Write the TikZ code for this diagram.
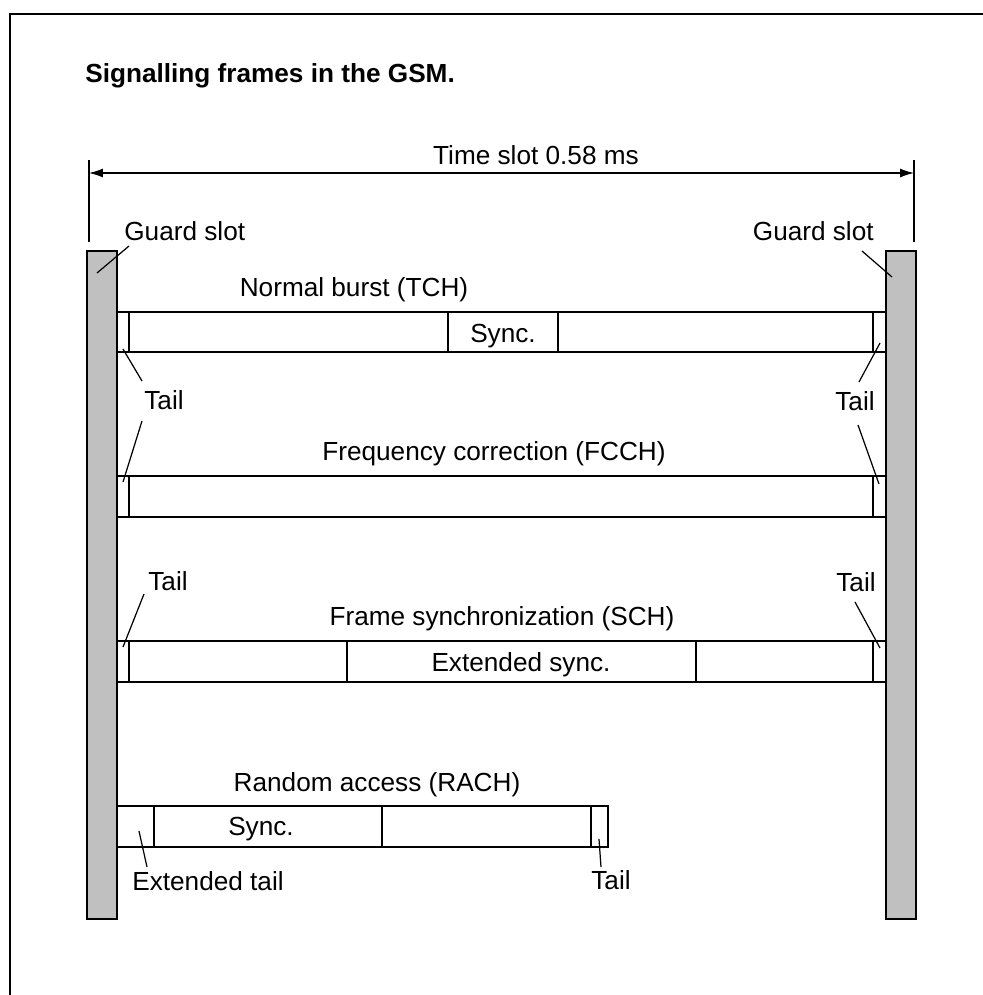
\documentclass[tikz,border=0pt]{standalone}
\usepackage{fontspec}
\setmainfont{Liberation Sans}
\usetikzlibrary{arrows.meta}

\definecolor{guardgray}{RGB}{192,192,192}

\begin{document}
\begin{tikzpicture}[x=0.02cm, y=-0.02cm, inner sep=0pt, font=\fontsize{14.9}{17}\selectfont]
    \useasboundingbox (0,0) rectangle (983,995);
    \clip (0,0) rectangle (983,995);
    \draw[line width=1.2pt] (10,14) rectangle (1010,1020);

    \coordinate (LT) at (89,160);
    \coordinate (LB) at (89,242);
    \coordinate (RT) at (914,160);
    \coordinate (RB) at (914,242);
    \coordinate (AL) at (89,173);
    \coordinate (AR) at (914,173);

    \coordinate (G1) at (97,273);
    \coordinate (G1t) at (129,246);
    \coordinate (G2) at (892,277);
    \coordinate (G2t) at (862,251);
    \coordinate (T1) at (123,349);
    \coordinate (T1t) at (142,381);
    \coordinate (T2) at (123,482);
    \coordinate (T2t) at (142,421);
    \coordinate (T3) at (880,343);
    \coordinate (T3t) at (859,382);
    \coordinate (T4) at (879,484);
    \coordinate (T4t) at (858,425);
    \coordinate (T5) at (123,647);
    \coordinate (T5t) at (144,594);
    \coordinate (T6) at (880,648);
    \coordinate (T6t) at (855,602);
    \coordinate (E1) at (139,831);
    \coordinate (E1t) at (147,867);
    \coordinate (T7) at (599,839);
    \coordinate (T7t) at (601,867);

    \node[anchor=base west, font=\fontsize{14.9}{17}\selectfont\bfseries] (title) at (85,82) {Signalling frames in the GSM.};

    \draw[line width=0.7pt] (LT) -- (LB);
    \draw[line width=0.7pt] (RT) -- (RB);
    \draw[line width=0.7pt, {Latex[length=0.28cm,width=0.18cm]}-{Latex[length=0.28cm,width=0.18cm]}] (AL) -- (AR);
    \node[anchor=base] (slot) at (536,164) {Time slot 0.58 ms};

    \fill[guardgray] (87,251) rectangle (117,919);
    \fill[guardgray] (886,251) rectangle (916,919);
    \draw[line width=1.1pt] (87,251) rectangle (117,919);
    \draw[line width=1.1pt] (886,251) rectangle (916,919);
    \node[anchor=base west] (guardL) at (124,240) {Guard slot};
    \node[anchor=base east] (guardR) at (874,240) {Guard slot};
    \draw[line width=0.7pt] (G1) -- (G1t);
    \draw[line width=0.7pt] (G2) -- (G2t);

    \draw[line width=1.1pt] (117,312) rectangle (886,352);
    \foreach \xx in {129,448,558,873}
        \draw[line width=1.1pt] (\xx,312) -- (\xx,352);
    \node[anchor=base] (tch) at (354,296) {Normal burst (TCH)};
    \node[anchor=base] (tchsync) at (503,342) {Sync.};

    \draw[line width=1.1pt] (117,476) rectangle (886,517);
    \foreach \xx in {129,873}
        \draw[line width=1.1pt] (\xx,476) -- (\xx,517);
    \node[anchor=base] (fcch) at (494,460) {Frequency correction (FCCH)};

    \node[anchor=base west] (tailA) at (144,409) {Tail};
    \node[anchor=base west] (tailB) at (835,410) {Tail};
    \draw[line width=0.7pt] (T1) -- (T1t);
    \draw[line width=0.7pt] (T2) -- (T2t);
    \draw[line width=0.7pt] (T3) -- (T3t);
    \draw[line width=0.7pt] (T4) -- (T4t);

    \draw[line width=1.1pt] (117,641) rectangle (886,682);
    \foreach \xx in {129,347,696,873}
        \draw[line width=1.1pt] (\xx,641) -- (\xx,682);
    \node[anchor=base] (sch) at (502,625) {Frame synchronization (SCH)};
    \node[anchor=base] (schsync) at (521,671) {Extended sync.};
    \node[anchor=base west] (tailC) at (148,590) {Tail};
    \node[anchor=base west] (tailD) at (836,591) {Tail};
    \draw[line width=0.7pt] (T5) -- (T5t);
    \draw[line width=0.7pt] (T6) -- (T6t);

    \draw[line width=1.1pt] (117,806) rectangle (608,847);
    \foreach \xx in {154,382,591}
        \draw[line width=1.1pt] (\xx,806) -- (\xx,847);
    \node[anchor=base] (rach) at (377,791) {Random access (RACH)};
    \node[anchor=base] (rachsync) at (261,835) {Sync.};
    \node[anchor=base west] (exttail) at (132,890) {Extended tail};
    \node[anchor=base west] (tailE) at (591,889) {Tail};
    \draw[line width=0.7pt] (E1) -- (E1t);
    \draw[line width=0.7pt] (T7) -- (T7t);
\end{tikzpicture}
\end{document}
